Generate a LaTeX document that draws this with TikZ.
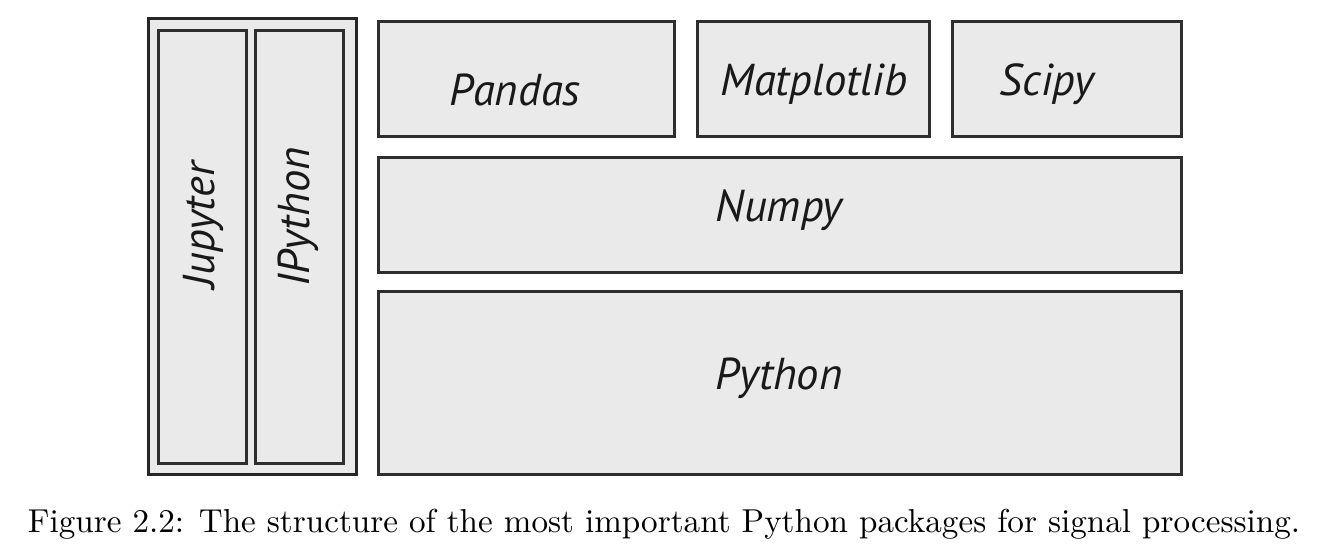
\documentclass[tikz,border=0pt]{standalone}
\usepackage{fontspec}
\newfontfamily\lblfont{PT Sans}
\definecolor{boxfill}{HTML}{EAEAEA}
\definecolor{boxline}{HTML}{2E2E2E}
\begin{document}
\begin{tikzpicture}[x=0.75pt,y=-0.75pt,
  pkgbox/.style={draw=boxline,fill=boxfill,line width=1.9pt,rectangle,inner sep=0pt,anchor=north west},
  outerbox/.style={draw=black!85,fill=boxfill,line width=2.3pt,rectangle,inner sep=0pt,anchor=north west},
  lbl/.style={font=\lblfont\itshape\fontsize{33.5}{38}\selectfont,text=black!90,inner sep=0pt},
  capt/.style={inner sep=0pt,anchor=base}]
\useasboundingbox (0,0) rectangle (1330,556);
% outer frame of the left column
\node[outerbox,minimum width=(355-147)*0.75pt,minimum height=(473-17)*0.75pt] (frame) at (147,17) {};
\node[pkgbox,minimum width=(245-157)*0.75pt,minimum height=(462-29)*0.75pt] (jup) at (157,29) {};
\node[pkgbox,minimum width=(342-254)*0.75pt,minimum height=(462-29)*0.75pt] (ipy) at (254,29) {};
% right side boxes
\node[pkgbox,minimum width=(673-377)*0.75pt,minimum height=(135-20)*0.75pt] (pan) at (377,20) {};
\node[pkgbox,minimum width=(928-696)*0.75pt,minimum height=(135-20)*0.75pt] (mat) at (696,20) {};
\node[pkgbox,minimum width=(1180-951)*0.75pt,minimum height=(135-20)*0.75pt] (sci) at (951,20) {};
\node[pkgbox,minimum width=(1180-377)*0.75pt,minimum height=(271-156)*0.75pt] (num) at (377,156) {};
\node[pkgbox,minimum width=(1180-377)*0.75pt,minimum height=(473-290)*0.75pt] (pyt) at (377,290) {};
% labels
\node[lbl,rotate=90] (tjup) at (203,225) {Jupyter};
\node[lbl,rotate=90] (tipy) at (298,217) {IPython};
\node[lbl] (tpan) at (515,90) {Pandas};
\node[lbl] (tmat) at (814,84) {Matplotlib};
\node[lbl] (tsci) at (1047,84) {Scipy};
\node[lbl] (tnum) at (779,210) {Numpy};
\node[lbl] (tpyt) at (779,378) {Python};
% caption
\node[capt] (cap) at (664,532) {\resizebox{954pt}{!}{Figure 2.2: The structure of the most important Python packages for signal processing.}};
\end{tikzpicture}
\end{document}
